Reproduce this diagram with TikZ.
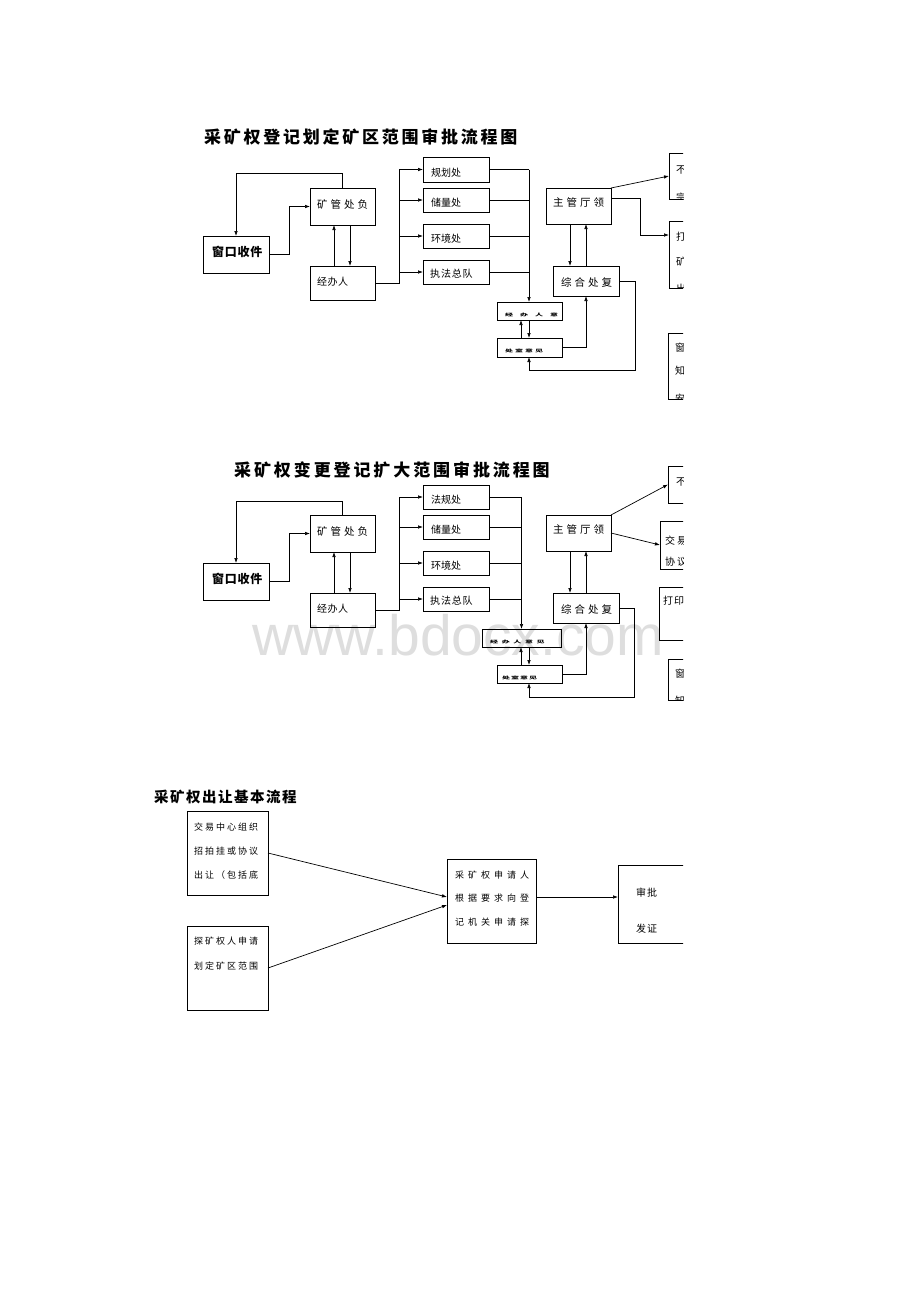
\documentclass[tikz,border=0pt]{standalone}
\usepackage{fontspec}
\setmainfont{Noto Sans CJK SC}
\newfontfamily\wmfont{Liberation Sans}
\usetikzlibrary{arrows.meta}
\makeatletter
\newcommand\spc[2]{\def\sp@gap{\hspace{#1}}\sp@go#2\@nil}
\def\sp@go#1#2\@nil{#1\ifx\relax#2\relax\else\sp@gap\sp@go#2\@nil\fi}
\makeatother
\newcommand\fs[1]{\fontsize{#1}{#1}\selectfont}
\newcommand\bx[5]{\node[box,minimum width={#4-#2},minimum height={#5-#3}] (#1) at ({(#2+#4)/2},{(#3+#5)/2}) {};}
\begin{document}
\begin{tikzpicture}[x=1pt,y=-1pt,
 box/.style={draw,line width=0.8pt,inner sep=0pt,outer sep=0pt},
 ln/.style={line width=0.7pt},
 arr/.style={line width=0.7pt,-{Latex[length=5pt,width=3.6pt]}},
 txt/.style={inner sep=0pt,anchor=west},
 ttl/.style={inner sep=0pt,anchor=west,font=\fs{17}\bfseries}]
\useasboundingbox (0,0) rectangle (920,1302);
\fill[white] (0,0) rectangle (920,1302);
\node[inner sep=0pt,anchor=base west,font=\wmfont\fs{57},text=black!13] (wm) at (252,655) {www.bdocx.com};
\begin{scope}
\clip (0,0) rectangle (683,1302);
% ================= Diagram 1 =================
\node[ttl] (t1) at (204,137) {\spc{2.75pt}{采矿权登记划定矿区范围审批流程图}};
\bx{a1}{203}{236}{269}{273}
\node[txt,font=\fs{12}\bfseries] (a1t) at (212,252) {\spc{0.7pt}{窗口收件}};
\bx{b1}{310}{188}{375}{225}
\node[txt,font=\fs{10.5}] (b1t) at (317,204) {\spc{3pt}{矿管处负}};
\bx{c1}{310}{266}{375}{300}
\node[txt,font=\fs{10}] (c1t) at (317,282) {\spc{0.5pt}{经办人}};
\bx{d1}{423}{157}{489}{182}
\node[txt,font=\fs{10}] (d1t) at (431,173) {规划处};
\bx{e1}{423}{188}{489}{212}
\node[txt,font=\fs{10}] (e1t) at (431,203) {储量处};
\bx{f1}{423}{224}{489}{248}
\node[txt,font=\fs{10}] (f1t) at (431,239) {环境处};
\bx{g1}{423}{260}{489}{284}
\node[txt,font=\fs{10}] (g1t) at (430,274) {\spc{0.8pt}{执法总队}};
\bx{h1}{497}{302}{562}{320}
\begin{scope}\clip (h1.south west) rectangle (h1.north east);
\node[txt] (h1t) at (505,315) {\scalebox{1}[0.5]{\fs{8}\bfseries\spc{7pt}{经办人意见}}};
\end{scope}
\bx{i1}{497}{338}{562}{357}
\begin{scope}\clip (i1.south west) rectangle (i1.north east);
\node[txt] (i1t) at (505,351) {\scalebox{1}[0.5]{\fs{8}\bfseries\spc{2pt}{处室意见}}};
\end{scope}
\bx{j1}{553}{266}{619}{296}
\node[txt,font=\fs{10.5}] (j1t) at (561,282) {\spc{3pt}{综合处复}};
\bx{k1}{546}{188}{611}{224}
\node[txt,font=\fs{10.5}] (k1t) at (553,203) {\spc{3pt}{主管厅领}};
\bx{l1}{669}{153}{730}{199}
\begin{scope}\clip (l1.south west) rectangle (l1.north east);
\node[txt,font=\fs{10}] (l1a) at (676,170) {不};
\node[txt,font=\fs{10}] (l1b) at (676,198) {宗};
\end{scope}
\bx{m1}{669}{221}{730}{288}
\begin{scope}\clip (m1.south west) rectangle (m1.north east);
\node[txt,font=\fs{10}] (m1a) at (676,237) {打};
\node[txt,font=\fs{10}] (m1b) at (676,262) {矿};
\node[txt,font=\fs{10}] (m1c) at (676,289) {出};
\end{scope}
\bx{n1}{668}{333}{730}{399}
\begin{scope}\clip (n1.south west) rectangle (n1.north east);
\node[txt,font=\fs{10}] (n1a) at (675,348) {窗};
\node[txt,font=\fs{10}] (n1b) at (675,371) {知};
\node[txt,font=\fs{10}] (n1c) at (675,399) {安};
\end{scope}
% connectors 1
\draw[arr] (b1.north) -- ++(0,-15) -| (a1.north);
\draw[arr] (a1.east) -- ++(20,0) |- (b1.west);
\draw[arr] ([xshift=-8.5pt]c1.north) -- ([xshift=-8.5pt]b1.south);
\draw[arr] ([xshift=7.5pt]b1.south) -- ([xshift=7.5pt]c1.north);
\coordinate (v1) at (399,0);
\draw[ln] (c1.east) -- (c1.east -| v1) -- (v1 |- d1.west);
\draw[arr] (v1 |- d1.west) -- (d1.west);
\draw[arr] (v1 |- e1.west) -- (e1.west);
\draw[arr] (v1 |- f1.west) -- (f1.west);
\draw[arr] (v1 |- g1.west) -- (g1.west);
\coordinate (r1) at (529,0);
\draw[ln] (d1.east) -- (d1.east -| r1);
\draw[ln] (e1.east) -- (e1.east -| r1);
\draw[ln] (f1.east) -- (f1.east -| r1);
\draw[ln] (g1.east) -- (g1.east -| r1);
\draw[arr] (d1.east -| r1) -- (r1 |- h1.north);
\draw[arr] ([xshift=-8.5pt]i1.north) -- ([xshift=-8.5pt]h1.south);
\draw[arr] ([xshift=-0.5pt]h1.south) -- ([xshift=-0.5pt]i1.north);
\draw[arr] (i1.east) -| (j1.south);
\draw[arr] (j1.east) -- ++(16,0) -- ++(0,89) -| ([xshift=-0.5pt]i1.south);
\draw[arr] ([xshift=-8.5pt]k1.south) -- ([xshift=-8.5pt]k1.south |- j1.north);
\draw[arr] (j1.north) -- (j1.north |- k1.south);
\draw[arr] (k1.north east) -- (l1.west);
\draw[arr] ([yshift=8pt]k1.east) -- ++(29,0) |- ([yshift=-14pt]m1.north west);
% ================= Diagram 2 =================
\node[ttl] (t2) at (234,470) {\spc{2.9pt}{采矿权变更登记扩大范围审批流程图}};
\bx{a2}{203}{563}{269}{600}
\node[txt,font=\fs{12}\bfseries] (a2t) at (212,579) {\spc{0.7pt}{窗口收件}};
\bx{b2}{310}{515}{375}{552}
\node[txt,font=\fs{10.5}] (b2t) at (317,531) {\spc{3pt}{矿管处负}};
\bx{c2}{310}{593}{375}{627}
\node[txt,font=\fs{10}] (c2t) at (317,609) {\spc{0.5pt}{经办人}};
\bx{d2}{423}{485}{489}{509}
\node[txt,font=\fs{10}] (d2t) at (431,500) {法规处};
\bx{e2}{423}{515}{489}{539}
\node[txt,font=\fs{10}] (e2t) at (431,530) {储量处};
\bx{f2}{423}{551}{489}{575}
\node[txt,font=\fs{10}] (f2t) at (431,566) {环境处};
\bx{g2}{423}{587}{489}{611}
\node[txt,font=\fs{10}] (g2t) at (430,601) {\spc{0.8pt}{执法总队}};
\bx{h2}{482}{629}{561}{647}
\begin{scope}\clip (h2.south west) rectangle (h2.north east);
\node[txt] (h2t) at (490,642) {\scalebox{1}[0.5]{\fs{8}\bfseries\spc{3.6pt}{经办人意见}}};
\end{scope}
\bx{i2}{497}{665}{562}{683}
\begin{scope}\clip (i2.south west) rectangle (i2.north east);
\node[txt] (i2t) at (502,678) {\scalebox{1}[0.5]{\fs{8}\bfseries\spc{1pt}{处室意见}}};
\end{scope}
\bx{j2}{553}{593}{619}{623}
\node[txt,font=\fs{10.5}] (j2t) at (561,609) {\spc{3pt}{综合处复}};
\bx{k2}{546}{515}{611}{551}
\node[txt,font=\fs{10.5}] (k2t) at (553,530) {\spc{3pt}{主管厅领}};
\bx{l2}{668}{466}{730}{503}
\begin{scope}\clip (l2.south west) rectangle (l2.north east);
\node[txt,font=\fs{10}] (l2a) at (676,482) {不};
\end{scope}
\bx{m2}{660}{521}{730}{569}
\begin{scope}\clip (m2.south west) rectangle (m2.north east);
\node[txt,font=\fs{10}] (m2a) at (665,541) {\spc{2pt}{交易}};
\node[txt,font=\fs{10}] (m2b) at (665,562) {\spc{2pt}{协议}};
\end{scope}
\bx{o2}{659}{587}{730}{640}
\begin{scope}\clip (o2.south west) rectangle (o2.north east);
\node[txt,font=\fs{10}] (o2a) at (663,601) {\spc{1pt}{打印}};
\end{scope}
\bx{n2}{668}{659}{730}{700}
\begin{scope}\clip (n2.south west) rectangle (n2.north east);
\node[txt,font=\fs{10}] (n2a) at (675,674) {窗};
\node[txt,font=\fs{10}] (n2b) at (675,701) {知};
\end{scope}
% connectors 2
\draw[arr] (b2.north) -- ++(0,-14) -| (a2.north);
\draw[arr] (a2.east) -- ++(20,0) |- (b2.west);
\draw[arr] ([xshift=-8.5pt]c2.north) -- ([xshift=-8.5pt]b2.south);
\draw[arr] ([xshift=7.5pt]b2.south) -- ([xshift=7.5pt]c2.north);
\coordinate (v2) at (399,0);
\draw[ln] (c2.east) -- (c2.east -| v2) -- (v2 |- d2.west);
\draw[arr] (v2 |- d2.west) -- (d2.west);
\draw[arr] (v2 |- e2.west) -- (e2.west);
\draw[arr] (v2 |- f2.west) -- (f2.west);
\draw[arr] (v2 |- g2.west) -- (g2.west);
\coordinate (r2) at (521.5,0);
\draw[ln] (d2.east) -- (d2.east -| r2);
\draw[ln] (e2.east) -- (e2.east -| r2);
\draw[ln] (f2.east) -- (f2.east -| r2);
\draw[ln] (g2.east) -- (g2.east -| r2);
\draw[arr] (d2.east -| r2) -- (r2 |- h2.north);
\draw[arr] ([xshift=-8.5pt]i2.north) -- ([xshift=-8.5pt]i2.north |- h2.south);
\draw[arr] ([xshift=-0.5pt]i2.north |- h2.south) -- ([xshift=-0.5pt]i2.north);
\draw[arr] (i2.east) -| (j2.south);
\draw[arr] (j2.east) -- ++(15,0) -- ++(0,89) -| ([xshift=-0.5pt]i2.south);
\draw[arr] ([xshift=-8.5pt]k2.south) -- ([xshift=-8.5pt]k2.south |- j2.north);
\draw[arr] (j2.north) -- (j2.north |- k2.south);
\draw[arr] (k2.north east) -- (l2.west);
\draw[arr] (k2.east) -- (m2.west);
% ================= Diagram 3 =================
\node[ttl,font=\fs{14.5}\bfseries] (t3) at (154,797) {\spc{1.5pt}{采矿权出让基本流程}};
\bx{p}{187}{811}{268}{895}
\node[txt,font=\fs{9}] (p1) at (194,827) {\spc{2pt}{交易中心组织}};
\node[txt,font=\fs{9}] (p2) at (194,851) {\spc{2pt}{招拍挂或协议}};
\node[txt,font=\fs{9}] (p3) at (194,875) {\spc{2pt}{出让（包括底}};
\bx{q}{187}{926}{268}{1010}
\node[txt,font=\fs{9}] (q1) at (194,941) {\spc{2pt}{探矿权人申请}};
\node[txt,font=\fs{9}] (q2) at (194,966) {\spc{2pt}{划定矿区范围}};
\bx{s}{447}{859}{536}{943}
\node[txt,font=\fs{9}] (s1) at (455,875) {\spc{4pt}{采矿权申请人}};
\node[txt,font=\fs{9}] (s2) at (455,898) {\spc{4pt}{根据要求向登}};
\node[txt,font=\fs{9}] (s3) at (455,922) {\spc{4pt}{记机关申请探}};
\bx{u}{618}{865}{720}{943}
\node[txt,font=\fs{10}] (u1) at (636,893) {\spc{1pt}{审批}};
\node[txt,font=\fs{10}] (u2) at (636,929) {\spc{1pt}{发证}};
\draw[arr] (p.east) -- ([yshift=4pt]s.west);
\draw[arr] (q.east) -- ([yshift=-4pt]s.west);
\draw[arr] ([yshift=4pt]s.east) -- ([yshift=4pt]s.east -| u.west);
\end{scope}
\end{tikzpicture}
\end{document}
